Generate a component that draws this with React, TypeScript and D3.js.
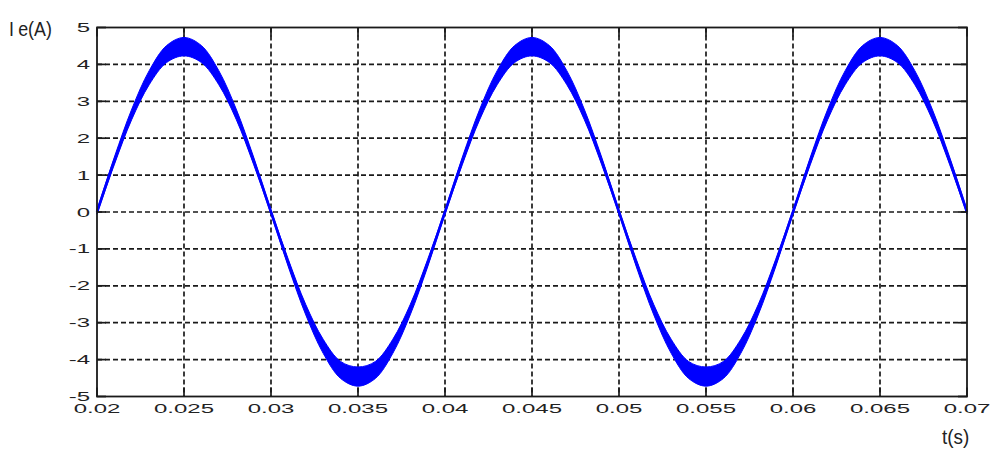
import * as d3 from 'd3';

// time samples (s), every 1 ms
const T = [
  0.020, 0.021, 0.022, 0.023, 0.024, 0.025, 0.026, 0.027, 0.028, 0.029,
  0.030, 0.031, 0.032, 0.033, 0.034, 0.035, 0.036, 0.037, 0.038, 0.039,
  0.040, 0.041, 0.042, 0.043, 0.044, 0.045, 0.046, 0.047, 0.048, 0.049,
  0.050, 0.051, 0.052, 0.053, 0.054, 0.055, 0.056, 0.057, 0.058, 0.059,
  0.060, 0.061, 0.062, 0.063, 0.064, 0.065, 0.066, 0.067, 0.068, 0.069,
  0.070,
];

// mean current Ie (A)
const IE = [
  0, 1.39, 2.65, 3.64, 4.28, 4.48, 4.28, 3.64, 2.65, 1.39,
  0, -1.39, -2.65, -3.64, -4.28, -4.46, -4.28, -3.64, -2.65, -1.39,
  0, 1.39, 2.65, 3.64, 4.28, 4.48, 4.28, 3.64, 2.65, 1.39,
  0, -1.39, -2.65, -3.64, -4.28, -4.46, -4.28, -3.64, -2.65, -1.39,
  0, 1.39, 2.65, 3.64, 4.28, 4.48, 4.28, 3.64, 2.65, 1.39,
  0,
];

// half thickness of the switching ripple band (A)
const RIPPLE = [
  0.06, 0.10, 0.14, 0.19, 0.23, 0.25, 0.23, 0.19, 0.14, 0.10,
  0.06, 0.10, 0.14, 0.19, 0.23, 0.26, 0.23, 0.19, 0.14, 0.10,
  0.06, 0.10, 0.14, 0.19, 0.23, 0.25, 0.23, 0.19, 0.14, 0.10,
  0.06, 0.10, 0.14, 0.19, 0.23, 0.26, 0.23, 0.19, 0.14, 0.10,
  0.06, 0.10, 0.14, 0.19, 0.23, 0.25, 0.23, 0.19, 0.14, 0.10,
  0.06,
];

const X_TICKS = [0.02, 0.025, 0.03, 0.035, 0.04, 0.045, 0.05, 0.055, 0.06, 0.065, 0.07];
const X_LABELS = ['0.02', '0.025', '0.03', '0.035', '0.04', '0.045', '0.05', '0.055', '0.06', '0.065', '0.07'];
const Y_TICKS = [5, 4, 3, 2, 1, 0, -1, -2, -3, -4, -5];

const M = { left: 97, right: 967, top: 27.5, bottom: 396.5 };
const TICK = 9;
const LABEL_FONT = "'Liberation Sans', Arial, sans-serif";
const INK = '#1a1a1a';

export default function App() {
  const x = d3.scaleLinear().domain([0.02, 0.07]).range([M.left, M.right]);
  const y = d3.scaleLinear().domain([-5, 5]).range([M.bottom, M.top]);

  const pts = T.map((t, i) => ({ t, v: IE[i], r: RIPPLE[i] }));
  const band = d3.area<{ t: number; v: number; r: number }>()
    .x(d => x(d.t))
    .y0(d => y(d.v - d.r))
    .y1(d => y(d.v + d.r))
    .curve(d3.curveCatmullRom)(pts);
  const mid = d3.line<{ t: number; v: number; r: number }>()
    .x(d => x(d.t))
    .y(d => y(d.v))
    .curve(d3.curveCatmullRom)(pts);

  return (
    <div style={{ position: 'fixed', left: 0, top: 0, width: 995, height: 469, background: '#fff' }}>
      <svg width={995} height={469} style={{ display: 'block' }}>
        <rect x={0} y={0} width={995} height={469} fill="#fff" />

        {/* grid */}
        {X_TICKS.slice(1, -1).map(t => (
          <line key={'gx' + t} x1={x(t)} x2={x(t)} y1={M.top} y2={M.bottom}
            stroke={INK} strokeWidth={1.7} strokeDasharray="5,3" />
        ))}
        {Y_TICKS.slice(1, -1).map(v => (
          <line key={'gy' + v} x1={M.left} x2={M.right} y1={y(v)} y2={y(v)}
            stroke={INK} strokeWidth={1.7} strokeDasharray="5,3" />
        ))}

        {/* current trace */}
        <path d={band ?? ''} fill="#0000ff" stroke="#0000ff" strokeWidth={1} />
        <path d={mid ?? ''} fill="none" stroke="#0000ff" strokeWidth={2.5} />

        {/* inward ticks on all four sides */}
        {X_TICKS.map(t => (
          <g key={'tx' + t}>
            <line x1={x(t)} x2={x(t)} y1={M.bottom} y2={M.bottom - TICK} stroke={INK} strokeWidth={1.7} />
            <line x1={x(t)} x2={x(t)} y1={M.top} y2={M.top + TICK} stroke={INK} strokeWidth={1.7} />
          </g>
        ))}
        {Y_TICKS.map(v => (
          <g key={'ty' + v}>
            <line x1={M.left} x2={M.left + TICK} y1={y(v)} y2={y(v)} stroke={INK} strokeWidth={1.7} />
            <line x1={M.right} x2={M.right - TICK} y1={y(v)} y2={y(v)} stroke={INK} strokeWidth={1.7} />
          </g>
        ))}

        {/* frame */}
        <rect x={M.left} y={M.top} width={M.right - M.left} height={M.bottom - M.top}
          fill="none" stroke={INK} strokeWidth={1.8} />

        {/* tick labels */}
        {X_TICKS.map((t, i) => (
          <text key={'lx' + t} transform={`translate(${x(t)},${413}) scale(2,1)`}
            textAnchor="middle" fontFamily={LABEL_FONT} fontSize={12} fill="#222">
            {X_LABELS[i]}
          </text>
        ))}
        {Y_TICKS.map(v => (
          <text key={'ly' + v} transform={`translate(90,${y(v) + 4.5}) scale(2,1)`}
            textAnchor="end" fontFamily={LABEL_FONT} fontSize={12} fill="#222">
            {String(v)}
          </text>
        ))}

        {/* axis titles */}
        <text transform="translate(9,36) scale(0.85,1)" fontFamily={LABEL_FONT} fontSize={21} fill="#222">
          I<tspan dx={5}>e(A)</tspan>
        </text>
        <text transform="translate(942,444) scale(0.9,1)" fontFamily={LABEL_FONT} fontSize={21} fill="#222">t(s)</text>
      </svg>
    </div>
  );
}
